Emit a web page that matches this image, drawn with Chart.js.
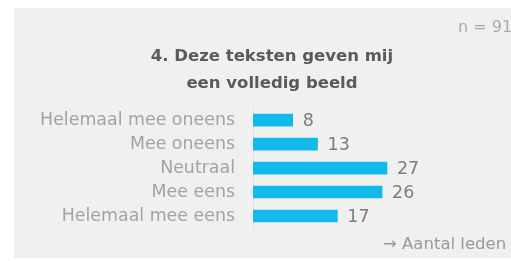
<!DOCTYPE html>
<html>
<head>
<meta charset="utf-8">
<script src="https://cdn.jsdelivr.net/npm/chart.js@4"></script>
<style>
  body { margin: 0; background: #fff; width: 511px; height: 261px; overflow: hidden; font-family: "DejaVu Sans", sans-serif; }
  #panel { position: absolute; left: 14px; top: 8px; width: 497px; height: 250px; background: #f0f0f0; }
  #chart { position: absolute; left: 0; top: 0; }
  .note { position: absolute; color: #ababab; white-space: nowrap; line-height: 20px; }
  #n { left: 444px; top: 9px; font-size: 16px; }
  #unit { left: 369px; top: 226px; font-size: 16.5px; color: #9a9a9a; }
</style>
</head>
<body>
<div id="panel">
  <canvas id="chart" width="497" height="250"></canvas>
  <div class="note" id="n">n = 91</div>
  <div class="note" id="unit">→ Aantal leden</div>
</div>
<script>
const categories = ['Helemaal mee oneens', 'Mee oneens', 'Neutraal', 'Mee eens', 'Helemaal mee eens'];
const leden = [8, 13, 27, 26, 17];
const titleLines = ['4. Deze teksten geven mij', 'een volledig beeld'];

/* getallen naast de balken */
const valueLabels = {
  id: 'valueLabels',
  afterDatasetsDraw(chart) {
    const c = chart.ctx;
    c.save();
    c.font = '17.5px "DejaVu Sans"';
    c.fillStyle = '#7d7d7d';
    c.textBaseline = 'middle';
    chart.getDatasetMeta(0).data.forEach((bar, i) => {
      c.fillText(leden[i], bar.x + 10, bar.y + 1.5);
    });
    c.restore();
  }
};

new Chart(document.getElementById('chart'), {
  type: 'bar',
  data: {
    labels: categories,
    datasets: [{
      data: leden,
      backgroundColor: '#13b9ea',
      barThickness: 12
    }]
  },
  options: {
    indexAxis: 'y',
    responsive: false,
    animation: false,
    layout: { padding: { left: 19, right: 0, top: 0, bottom: 30 } },
    plugins: {
      legend: { display: false },
      tooltip: { enabled: false },
      title: {
        display: true,
        text: titleLines,
        color: '#5a5a5a',
        font: { family: 'DejaVu Sans', size: 16.5, weight: 'bold', lineHeight: 1.64 },
        padding: { top: 35, bottom: 11 }
      }
    },
    scales: {
      x: { display: false, min: 0, max: 52 },
      y: {
        afterFit(s) { s.width = 220; },
        grid: { display: false, drawTicks: false },
        border: { color: '#e2e2e2' },
        ticks: {
          color: '#a3a3a3',
          padding: 18,
          font: { family: 'DejaVu Sans', size: 17.4 }
        }
      }
    }
  },
  plugins: [valueLabels]
});
</script>
</body>
</html>
